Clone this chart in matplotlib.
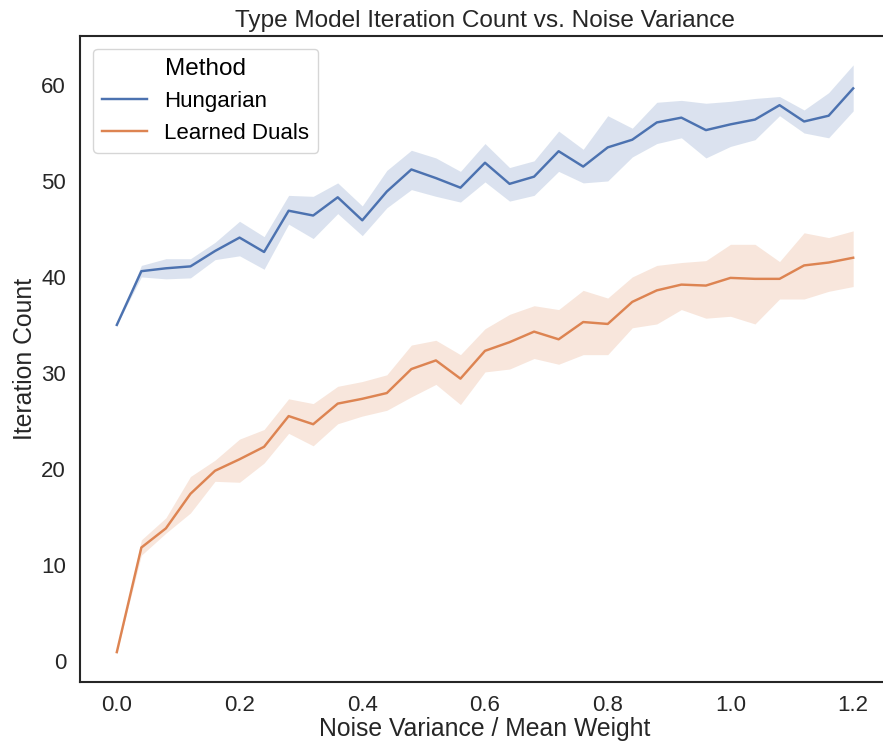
import numpy as np
import matplotlib
matplotlib.use("Agg")
import matplotlib.pyplot as plt

plt.rcParams['font.family'] = ['Liberation Sans', 'DejaVu Sans']

noise = [round(0.04 * i, 2) for i in range(31)]

hung_mean = [35.0, 40.6, 40.9, 41.1, 42.7, 44.1, 42.6, 46.9, 46.4, 48.3, 45.9, 48.9, 51.2, 50.3, 49.3,
             51.9, 49.7, 50.45, 53.1, 51.5, 53.5, 54.3, 56.1, 56.6, 55.3, 55.9, 56.4, 57.9, 56.2, 56.8, 59.65]
hung_upper = [35.0, 41.2, 41.9, 41.9, 43.6, 45.8, 44.2, 48.5, 48.4, 49.8, 47.4, 51.1, 53.2, 52.4, 51.0,
              53.9, 51.4, 52.1, 55.2, 53.3, 56.8, 55.5, 58.2, 58.4, 58.1, 58.3, 58.6, 58.8, 57.4, 59.2, 62.1]
hung_lower = [35.0, 40.0, 39.8, 39.9, 41.8, 42.2, 40.8, 45.5, 44.0, 46.6, 44.3, 47.2, 49.1, 48.4, 47.8,
              49.9, 47.9, 48.5, 51.0, 49.8, 50.0, 52.5, 53.9, 54.5, 52.4, 53.6, 54.3, 56.8, 55.0, 54.5, 57.3]

ld_mean = [0.9, 11.8, 13.8, 17.4, 19.8, 21.0, 22.3, 25.5, 24.65, 26.8, 27.3, 27.9, 30.4, 31.3, 29.4,
           32.3, 33.2, 34.3, 33.5, 35.3, 35.1, 37.4, 38.6, 39.2, 39.1, 39.9, 39.8, 39.8, 41.2, 41.5, 42.0]
ld_upper = [0.9, 12.6, 14.9, 19.2, 20.9, 23.1, 24.1, 27.3, 26.8, 28.6, 29.1, 29.8, 32.9, 33.4, 31.9,
            34.6, 36.1, 37.0, 36.6, 38.6, 37.8, 40.0, 41.2, 41.5, 41.7, 43.4, 43.4, 41.6, 44.6, 44.1, 44.8]
ld_lower = [0.9, 11.0, 13.3, 15.4, 18.7, 18.6, 20.6, 23.7, 22.4, 24.7, 25.5, 26.1, 27.5, 28.8, 26.7,
            30.1, 30.4, 31.5, 30.9, 31.9, 31.9, 34.7, 35.1, 36.6, 35.7, 35.9, 35.1, 37.7, 37.7, 38.5, 39.0]

methods = ["Hungarian", "Learned Duals"]
colors = ["#4C72B0", "#DD8452"]

fig = plt.figure(figsize=(8.83, 7.44), dpi=100)
ax = fig.add_axes([80 / 883, (744 - 681.5) / 744, (890 - 80) / 883, (681.5 - 35.5) / 744])

series = [(hung_mean, hung_lower, hung_upper), (ld_mean, ld_lower, ld_upper)]
for (m, lo, hi), name, c in zip(series, methods, colors):
    ax.fill_between(noise, lo, hi, color=c, alpha=0.2, linewidth=0)
    ax.plot(noise, m, color=c, lw=1.75, label=name)

ax.set_xlim(-0.06, 1.26)
ax.set_ylim(-2.16, 65.16)
ax.set_xticks([0.0, 0.2, 0.4, 0.6, 0.8, 1.0, 1.2])
ax.set_xticklabels(["0.0", "0.2", "0.4", "0.6", "0.8", "1.0", "1.2"])
ax.set_yticks([0, 10, 20, 30, 40, 50, 60])

dark = "#262626"
for s in ax.spines.values():
    s.set_color(dark)
    s.set_linewidth(1.5)
ax.spines["right"].set_visible(False)
ax.tick_params(length=0, labelsize=16, colors=dark, pad=10)
ax.set_xlabel("Noise Variance / Mean Weight", fontsize=17.8, color=dark, labelpad=0.5)
ax.set_ylabel("Iteration Count", fontsize=17.8, color=dark, labelpad=3)
ax.set_title("Type Model Iteration Count vs. Noise Variance", fontsize=17.6, color=dark, pad=6)

leg = ax.legend(title="Method", loc="upper left", fontsize=16, title_fontsize=17.5,
                frameon=True, borderaxespad=0.6)
leg.get_frame().set_edgecolor("#cccccc")

fig.savefig("out.png", dpi=100)
